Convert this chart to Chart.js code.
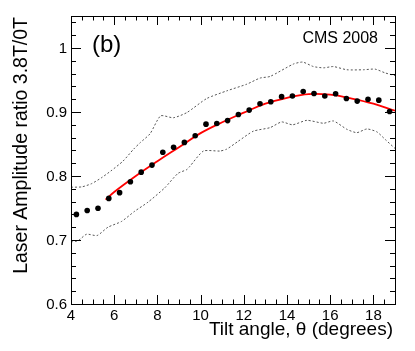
<!DOCTYPE html>
<html>
<head>
<meta charset="utf-8">
<script src="https://cdn.jsdelivr.net/npm/chart.js@4/dist/chart.umd.min.js"></script>
<style>
  html, body { margin: 0; padding: 0; background: #fff; }
  #wrap { width: 415px; height: 351px; }
</style>
</head>
<body>
<div id="wrap"><canvas id="chart"></canvas></div>
<script>
// measured points
var angle = [4.25, 4.75, 5.25, 5.75, 6.25, 6.75, 7.25, 7.75, 8.25, 8.75, 9.25, 9.75, 10.25, 10.75, 11.25,
             11.75, 12.25, 12.75, 13.25, 13.75, 14.25, 14.75, 15.25, 15.75, 16.25, 16.75, 17.25, 17.75, 18.25, 18.75];
var ratio = [0.740, 0.746, 0.7495, 0.765, 0.774, 0.791, 0.806, 0.817, 0.837, 0.845, 0.8525, 0.863, 0.881, 0.882, 0.8866,
             0.896, 0.903, 0.913, 0.916, 0.924, 0.925, 0.932, 0.929, 0.925, 0.9285, 0.921, 0.917, 0.920, 0.9185, 0.9007];

// red fit curve
var fitAngle = [5.6, 6, 7, 8, 9, 10, 11, 12, 13, 14, 15, 16, 17, 18, 19];
var fitRatio = [0.763, 0.775, 0.800, 0.823, 0.845, 0.867, 0.884, 0.899, 0.913, 0.922, 0.928, 0.927, 0.921, 0.913, 0.902];

// dotted bands
var upperAngle = [4.0, 4.5, 4.95, 5.4, 5.85, 6.4, 6.9, 7.2, 7.66, 8.15, 8.74, 9.36, 10.28, 11.21, 12.14, 12.75, 13.22,
                  14.30, 14.73, 15.22, 15.69, 16.15, 16.77, 17.54, 18.08, 18.55, 19.0];
var upperRatio = [0.7825, 0.783, 0.788, 0.797, 0.808, 0.823, 0.842, 0.852, 0.866, 0.894, 0.891, 0.899, 0.921, 0.933, 0.9435, 0.953, 0.9556,
                  0.975, 0.978, 0.971, 0.969, 0.971, 0.966, 0.966, 0.967, 0.961, 0.957];
var lowerAngle = [4.0, 4.33, 4.72, 5.21, 5.71, 6.34, 6.95, 7.56, 8.34, 8.95, 9.36, 9.51, 10.13, 10.9, 11.21, 11.73, 12.44,
                  13.22, 13.75, 14.26, 14.92, 15.69, 16.15, 16.77, 17.23, 17.70, 18.16, 18.55, 19.0];
var lowerRatio = [0.697, 0.699, 0.709, 0.707, 0.720, 0.729, 0.745, 0.759, 0.7815, 0.804, 0.810, 0.8154, 0.839, 0.839, 0.842, 0.854, 0.870,
                  0.8756, 0.8845, 0.880, 0.887, 0.8824, 0.886, 0.873, 0.8677, 0.8735, 0.869, 0.857, 0.843];

var xTicks = ['4', '6', '8', '10', '12', '14', '16', '18'];
var yTicks = ['0.6', '0.7', '0.8', '0.9', '1'];

function pts(xs, ys) {
  return xs.map(function (x, i) { return { x: x, y: ys[i] }; });
}

var FONT = '"Liberation Sans", Arial, Helvetica, sans-serif';

// ROOT-style frame: box, inward ticks on all sides, labels and titles
var rootFrame = {
  id: 'rootFrame',
  afterDraw: function (chart) {
    var ctx = chart.ctx;
    var a = chart.chartArea;
    var xs = chart.scales.x, ys = chart.scales.y;
    ctx.save();
    ctx.strokeStyle = '#000';
    ctx.lineWidth = 1;
    ctx.strokeRect(a.left + 0.5, a.top + 0.5, a.right - a.left, a.bottom - a.top);

    ctx.beginPath();
    // x ticks, every 0.5, major every 2
    for (var v = 4; v <= 19.001; v += 0.5) {
      var px = Math.round(xs.getPixelForValue(v)) + 0.5;
      var len = (Math.abs(v / 2 - Math.round(v / 2)) < 1e-6) ? 9 : 4.5;
      ctx.moveTo(px, a.bottom); ctx.lineTo(px, a.bottom - len);
      ctx.moveTo(px, a.top); ctx.lineTo(px, a.top + len);
    }
    // y ticks, every 0.02, major every 0.1
    for (var k = 0; k <= 22; k++) {
      var val = 0.6 + k * 0.02;
      var py = Math.round(ys.getPixelForValue(val)) + 0.5;
      var l2 = (k % 5 === 0) ? 10 : 5;
      ctx.moveTo(a.left, py); ctx.lineTo(a.left + l2, py);
      ctx.moveTo(a.right, py); ctx.lineTo(a.right - l2, py);
    }
    ctx.stroke();

    ctx.fillStyle = '#000';
    ctx.font = '15px ' + FONT;
    ctx.textAlign = 'center';
    ctx.textBaseline = 'alphabetic';
    xTicks.forEach(function (t) {
      ctx.fillText(t, xs.getPixelForValue(parseFloat(t)), a.bottom + 16);
    });
    ctx.textAlign = 'right';
    ctx.textBaseline = 'middle';
    yTicks.forEach(function (t) {
      ctx.fillText(t, a.left - 4, ys.getPixelForValue(parseFloat(t)) + 1);
    });

    // axis titles
    ctx.font = '19px ' + FONT;
    ctx.textAlign = 'right';
    ctx.textBaseline = 'alphabetic';
    ctx.fillText('Tilt angle, \u03b8 (degrees)', a.right - 2, a.bottom + 31);
    ctx.save();
    ctx.font = '19.5px ' + FONT;
    ctx.translate(27, a.top + 1);
    ctx.rotate(-Math.PI / 2);
    ctx.textAlign = 'right';
    ctx.fillText('Laser Amplitude ratio 3.8T/0T', 0, 0);
    ctx.restore();

    // labels inside the frame
    ctx.textAlign = 'left';
    ctx.font = '24px ' + FONT;
    ctx.fillText('(b)', 92, 52);
    ctx.textAlign = 'right';
    ctx.font = '16px ' + FONT;
    ctx.fillText('CMS 2008', 378, 43);
    ctx.restore();
  }
};

new Chart(document.getElementById('chart'), {
  type: 'scatter',
  data: {
    datasets: [
      {
        label: 'data',
        data: pts(angle, ratio),
        backgroundColor: '#000',
        borderColor: '#000',
        pointRadius: 2.8,
        pointBorderWidth: 0
      },
      {
        label: 'fit',
        data: pts(fitAngle, fitRatio),
        showLine: true,
        borderColor: '#ff0000',
        borderWidth: 1.8,
        pointRadius: 0,
        tension: 0.4
      },
      {
        label: 'upper',
        data: pts(upperAngle, upperRatio),
        showLine: true,
        borderColor: '#555',
        borderWidth: 1,
        borderDash: [2, 2],
        pointRadius: 0,
        tension: 0.2
      },
      {
        label: 'lower',
        data: pts(lowerAngle, lowerRatio),
        showLine: true,
        borderColor: '#555',
        borderWidth: 1,
        borderDash: [2, 2],
        pointRadius: 0,
        tension: 0.2
      }
    ]
  },
  options: {
    responsive: true,
    maintainAspectRatio: false,
    animation: false,
    layout: { padding: { left: 71, right: 20, top: 16, bottom: 47 } },
    plugins: { legend: { display: false }, tooltip: { enabled: false } },
    scales: {
      x: { type: 'linear', min: 4, max: 19, display: false },
      y: { type: 'linear', min: 0.6, max: 1.05, display: false }
    }
  },
  plugins: [rootFrame]
});
</script>
</body>
</html>
